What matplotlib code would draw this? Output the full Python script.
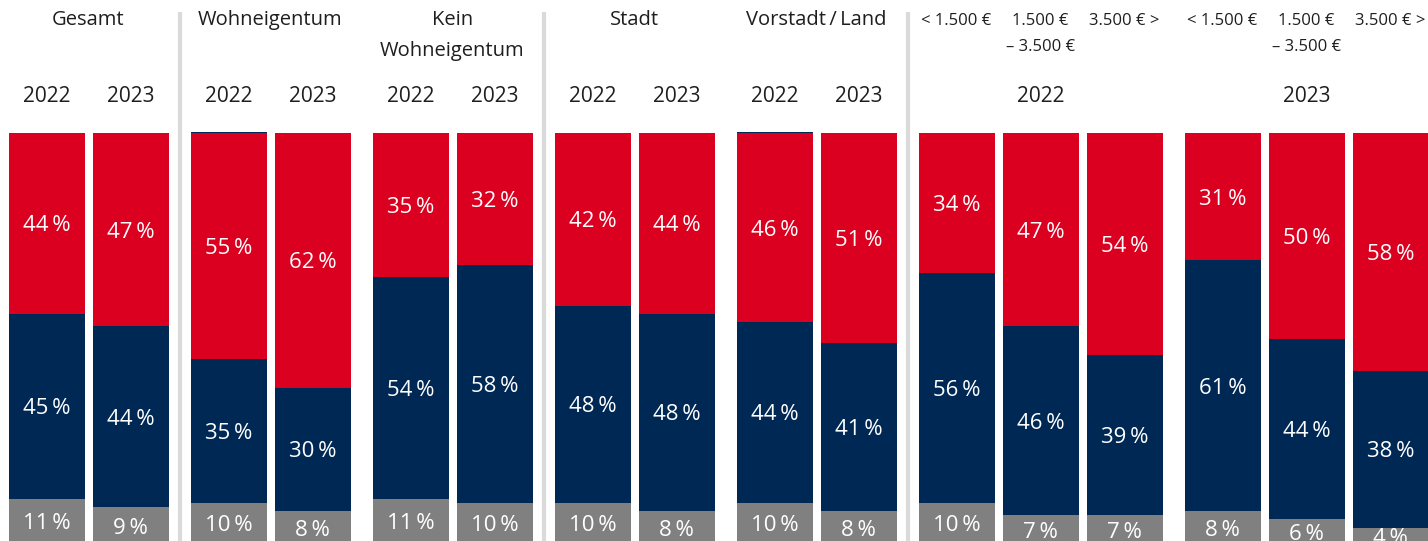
import numpy as np
import matplotlib.pyplot as plt

# Daten (Anteile in %)
gruppen = ["Gesamt", "Wohneigentum", "Kein\nWohneigentum", "Stadt", "Vorstadt\u2009/\u2009Land"]
jahre = ["2022", "2023"]
einkommen = ["< 1.500 €", "1.500 €\n– 3.500 €", "3.500 € >"]

# Reihenfolge der Balken: 5 Gruppen x 2 Jahre, dann Einkommen 2022 (3), Einkommen 2023 (3)
grau = [11, 9, 10, 8, 11, 10, 10, 8, 10, 8, 10, 7, 7, 8, 6, 4]
blau = [45, 44, 35, 30, 54, 58, 48, 48, 44, 41, 56, 46, 39, 61, 44, 38]
rot = [44, 47, 55, 62, 35, 32, 42, 44, 46, 51, 34, 47, 54, 31, 50, 58]
rest = [0, 0, 0.3, 0, 0, 0, 0, 0, 0.3, 0, 0, 0, 0, 0, 0, 0]

ROT = "#DB0020"
BLAU = "#002855"
GRAU = "#808080"
LINIE = "#DADADA"
TEXT = "#1e1e1e"

plt.rcParams["font.family"] = ["Open Sans", "DejaVu Sans"]

# x-Positionen in Pixeln: Abstand 84 innerhalb, 98 zwischen den Blöcken
blöcke = [2, 2, 2, 2, 2, 3, 3]
x = []
pos = 46.5
for n in blöcke:
    for k in range(n):
        x.append(pos)
        pos += 84
    pos += 98 - 84
x = np.array(x)
breite = 76

fig = plt.figure(figsize=(14.28, 5.41), dpi=100)
ax = fig.add_axes([0, 0, 1, 1])
px = 4.11  # Pixel pro Prozentpunkt
ax.set_xlim(0, 1428)
ax.set_ylim(3 / px, 544 / px)
ax.axis("off")

g = np.array(grau, float)
b = np.array(blau, float)
r = np.array(rot, float)
s = np.array(rest, float)
ax.bar(x, g, breite, color=GRAU)
ax.bar(x, b, breite, bottom=g, color=BLAU)
ax.bar(x, r, breite, bottom=g + b, color=ROT)
ax.bar(x, s, breite, bottom=g + b + r, color=BLAU)

for xi, gi, bi, ri in zip(x, g, b, r):
    for wert, unten in ((gi, 0), (bi, gi), (ri, gi + bi)):
        ax.text(xi, unten + wert / 2, f"{int(wert)}\u2009%", color="white",
                ha="center", va="center_baseline", fontsize=16)

# Trennlinien
def y_px(p):
    return (544 - p) / px

for i in (1, 5, 9):
    xs = (x[i] + x[i + 1]) / 2
    ax.plot([xs, xs], [y_px(541), y_px(12)], color=LINIE, lw=3, solid_capstyle="butt")

# Kopfzeilen
for j, name in enumerate(gruppen):
    xm = (x[2 * j] + x[2 * j + 1]) / 2
    ax.text(xm, y_px(10), name, ha="center", va="top", fontsize=14.5,
            linespacing=1.75, color=TEXT)
    for k in range(2):
        ax.text(x[2 * j + k], y_px(94), jahre[k], ha="center", va="center_baseline",
                fontsize=15, color=TEXT)

for blk, jahr in enumerate(jahre):
    idx = 10 + 3 * blk
    for k, lab in enumerate(einkommen):
        ax.text(x[idx + k], y_px(13), lab, ha="center", va="top", fontsize=12,
                linespacing=1.85, color=TEXT)
    ax.text(x[idx + 1], y_px(94), jahr, ha="center", va="center_baseline",
            fontsize=15, color=TEXT)

fig.savefig("out.png", dpi=100)
